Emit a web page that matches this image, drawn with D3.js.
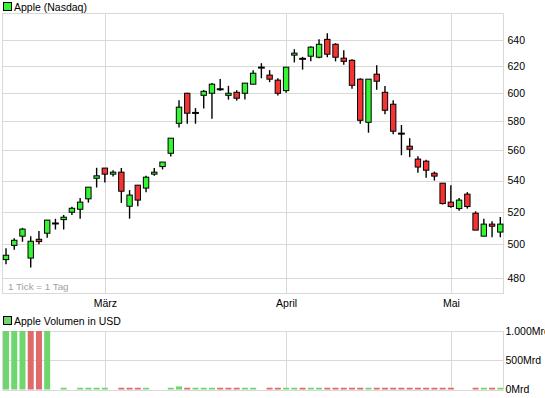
<!DOCTYPE html>
<html>
<head>
<meta charset="utf-8">
<script src="https://cdn.jsdelivr.net/npm/d3@7"></script>
<style>
  body { margin: 0; background: #fff; }
  svg { display: block; font-family: "Liberation Sans", Arial, sans-serif; }
</style>
</head>
<body>
<div id="chart"></div>
<script>
// Handelstage (Feb - Mai 2012)
const dates = [
  "2012-02-13","2012-02-14","2012-02-15","2012-02-16","2012-02-17","2012-02-21","2012-02-22","2012-02-23","2012-02-24","2012-02-27","2012-02-28","2012-02-29",
  "2012-03-01","2012-03-02","2012-03-05","2012-03-06","2012-03-07","2012-03-08","2012-03-09","2012-03-12","2012-03-13","2012-03-14","2012-03-15","2012-03-16",
  "2012-03-19","2012-03-20","2012-03-21","2012-03-22","2012-03-23","2012-03-26","2012-03-27","2012-03-28","2012-03-29","2012-03-30",
  "2012-04-02","2012-04-03","2012-04-04","2012-04-05","2012-04-09","2012-04-10","2012-04-11","2012-04-12","2012-04-13","2012-04-16",
  "2012-04-17","2012-04-18","2012-04-19","2012-04-20","2012-04-23","2012-04-24","2012-04-25","2012-04-26","2012-04-27","2012-04-30",
  "2012-05-01","2012-05-02","2012-05-03","2012-05-04","2012-05-07","2012-05-08","2012-05-09"
];

const open = [490.8,499.3,504.9,491.7,503.0,506.7,512.7,515.1,519.7,521.6,528.2,541.5,
  548.2,544.2,545.5,523.5,537.0,535.1,544.2,549.2,558.1,578.7,600.1,586.0,
  598.6,600.1,603.0,598.6,600.8,600.1,606.7,619.0,613.4,609.7,
  602.0,628.4,625.6,627.6,626.8,640.5,636.7,626.1,624.5,610.4,
  579.4,614.1,600.8,592.2,571.5,562.9,554.2,552.8,544.8,538.3,
  526.1,522.0,531.2,519.1,504.9,512.3,507.4];
const high = [497.6,503.6,510.0,504.9,508.0,514.8,515.6,518.0,523.1,528.8,535.7,548.4,
  548.2,546.8,548.3,533.8,537.0,543.1,548.2,552.2,568.4,595.1,600.5,589.4,
  602.5,607.5,610.6,605.5,602.3,607.5,617.1,622.3,617.1,611.1,
  619.3,632.9,627.1,635.2,640.5,645.2,637.5,632.2,625.3,611.1,
  610.4,620.7,605.3,595.1,577.5,568.4,556.1,553.7,545.9,538.3,
  537.0,528.7,532.5,520.3,515.6,514.1,516.8];
const low = [488.1,496.7,501.5,486.1,500.0,504.0,509.0,509.0,518.0,515.7,525.8,535.5,
  538.7,542.6,525.6,515.7,523.5,532.4,543.1,547.3,555.9,575.7,578.4,578.4,
  589.1,581.9,602.0,595.5,594.8,595.5,606.7,611.1,608.2,598.4,
  600.5,622.9,617.5,623.7,626.1,626.8,623.7,621.1,603.4,578.4,
  572.2,602.7,585.1,571.1,556.8,555.5,545.2,541.9,540.0,524.6,
  522.6,520.7,522.0,508.6,504.9,504.3,504.3];
const close = [493.4,502.4,509.2,501.8,501.6,514.8,512.7,516.6,522.2,526.1,535.7,543.1,
  544.2,545.5,533.1,530.6,527.4,542.2,545.5,552.2,568.4,590.1,585.8,586.0,
  601.5,606.7,603.0,600.1,596.5,607.5,614.8,619.0,610.4,600.1,
  619.3,629.9,625.6,634.5,636.7,629.1,626.8,623.7,605.9,580.8,
  610.4,608.9,587.9,573.2,571.5,560.8,548.9,546.8,542.9,525.2,
  523.3,527.4,523.3,508.6,512.3,511.0,512.3];

// Volumen in Mrd USD
const volume = [1000,1000,1000,1000,1000,1000,0,30,0,30,30,30,
  30,0,30,30,30,30,0,0,30,52,30,30,
  30,30,30,30,30,30,30,0,30,30,
  30,30,30,30,30,30,30,30,30,30,
  30,30,30,30,30,30,30,30,30,30,
  30,0,0,30,30,30,30];

const priceTicks = [480, 500, 520, 540, 560, 580, 600, 620, 640];
const volumeTicks = [0, 500, 1000];
const monthStarts = ["2012-03-01", "2012-04-02", "2012-05-01"];
const monthLabels = ["März", "April", "Mai"];

const W = 545, H = 398;
const left = 2.5, right = 503.5;
const priceTop = 13.5, priceBottom = 293.5;
const volTop = 331, volBottom = 389.5;
const grid = "#d9d9d9";
const up = "#33f533", down = "#f53333";
const volUp = "#6ed66e", volDown = "#df6a6a";
const fontSize = "10.5px";

const candles = dates.map((d, i) => ({
  date: d, o: open[i], h: high[i], l: low[i], c: close[i], v: volume[i],
  rising: i === 0 ? true : close[i] >= close[i - 1]
}));

const svg = d3.select("#chart").append("svg")
  .attr("width", W).attr("height", H);

// Skalen
const x = d3.scalePoint().domain(dates).range([6, 500.3]);
const y = d3.scaleLog().domain([480, 640]).range([278, 40]);
const yv = d3.scaleLinear().domain([0, 1000]).range([volBottom, volTop]);

// --- Kurs-Panel ---
const gPrice = svg.append("g");

gPrice.selectAll(".hgrid").data(priceTicks).enter().append("line")
  .attr("x1", left).attr("x2", right)
  .attr("y1", d => Math.round(y(d)) + 0.5).attr("y2", d => Math.round(y(d)) + 0.5)
  .attr("stroke", grid);

gPrice.selectAll(".vgrid").data(monthStarts).enter().append("line")
  .attr("x1", d => Math.round(x(d)) + 0.5).attr("x2", d => Math.round(x(d)) + 0.5)
  .attr("y1", priceTop).attr("y2", priceBottom)
  .attr("stroke", grid);

gPrice.append("rect")
  .attr("x", left).attr("y", priceTop)
  .attr("width", right - left).attr("height", priceBottom - priceTop)
  .attr("fill", "none").attr("stroke", grid);

// Achse rechts
const yAxis = gPrice.append("g")
  .attr("transform", `translate(${right},0)`)
  .call(d3.axisRight(y).tickValues(priceTicks).tickSize(0).tickPadding(4).tickFormat(d3.format("d")));
yAxis.select(".domain").remove();
yAxis.selectAll("text").style("font-size", fontSize).attr("fill", "#000");

// Monate
const xAxis = svg.append("g")
  .attr("transform", `translate(0,${priceBottom})`)
  .call(d3.axisBottom(x).tickValues(monthStarts).tickSize(0).tickPadding(6)
    .tickFormat((d, i) => monthLabels[i]));
xAxis.select(".domain").remove();
xAxis.selectAll("text").style("font-size", fontSize).attr("fill", "#000");

svg.append("text")
  .attr("x", 8).attr("y", 290)
  .style("font-size", "9.8px").attr("fill", "#a0a0a0")
  .text("1 Tick = 1 Tag");

// Kerzen
const bodyW = 5.4;
const gC = gPrice.selectAll(".candle").data(candles).enter().append("g");

gC.append("line")
  .attr("x1", d => x(d.date)).attr("x2", d => x(d.date))
  .attr("y1", d => y(d.h)).attr("y2", d => y(d.l))
  .attr("stroke", "#000").attr("stroke-width", 1.4);

gC.filter(d => d.o !== d.c).append("rect")
  .attr("x", d => x(d.date) - bodyW / 2)
  .attr("y", d => y(Math.max(d.o, d.c)))
  .attr("width", bodyW)
  .attr("height", d => Math.abs(y(d.o) - y(d.c)))
  .attr("fill", d => d.c > d.o ? up : down)
  .attr("stroke", "#000").attr("stroke-width", 1);

gC.filter(d => d.o === d.c).append("rect")
  .attr("x", d => x(d.date) - 3.4)
  .attr("y", d => y(d.c) - 1)
  .attr("width", 6.8).attr("height", 2)
  .attr("fill", "#000");

// Legende oben
svg.append("rect")
  .attr("x", 3.5).attr("y", 2.5).attr("width", 8).attr("height", 8)
  .attr("fill", up).attr("stroke", "#000");
svg.append("text")
  .attr("x", 14).attr("y", 10.5)
  .style("font-size", fontSize)
  .text("Apple (Nasdaq)");

// --- Volumen-Panel ---
const gVol = svg.append("g");

gVol.selectAll(".hgrid").data(volumeTicks).enter().append("line")
  .attr("x1", left).attr("x2", right)
  .attr("y1", d => Math.round(yv(d)) + 0.5).attr("y2", d => Math.round(yv(d)) + 0.5)
  .attr("stroke", grid);

gVol.selectAll(".vgrid").data(monthStarts).enter().append("line")
  .attr("x1", d => Math.round(x(d)) + 0.5).attr("x2", d => Math.round(x(d)) + 0.5)
  .attr("y1", volTop).attr("y2", volBottom)
  .attr("stroke", grid);

gVol.append("line")
  .attr("x1", left).attr("x2", left).attr("y1", volTop).attr("y2", volBottom).attr("stroke", grid);
gVol.append("line")
  .attr("x1", right).attr("x2", right).attr("y1", volTop).attr("y2", volBottom).attr("stroke", grid);

gVol.selectAll(".vbar").data(candles.filter(d => d.v > 0)).enter().append("rect")
  .attr("x", d => x(d.date) - 3)
  .attr("y", d => yv(d.v))
  .attr("width", 6)
  .attr("height", d => yv(0) - yv(d.v))
  .attr("fill", d => d.rising ? volUp : volDown);

const vAxis = gVol.append("g")
  .attr("transform", `translate(${right},0)`)
  .call(d3.axisRight(yv).tickValues(volumeTicks).tickSize(0).tickPadding(2)
    .tickFormat(d => (d === 1000 ? "1.000" : d) + "Mrd"));
vAxis.select(".domain").remove();
vAxis.selectAll("text").style("font-size", fontSize).attr("fill", "#000");

svg.append("rect")
  .attr("x", 3.5).attr("y", 316.5).attr("width", 8).attr("height", 8)
  .attr("fill", volUp).attr("stroke", "#000");
svg.append("text")
  .attr("x", 14).attr("y", 324.5)
  .style("font-size", fontSize)
  .text("Apple Volumen in USD");
</script>
</body>
</html>
